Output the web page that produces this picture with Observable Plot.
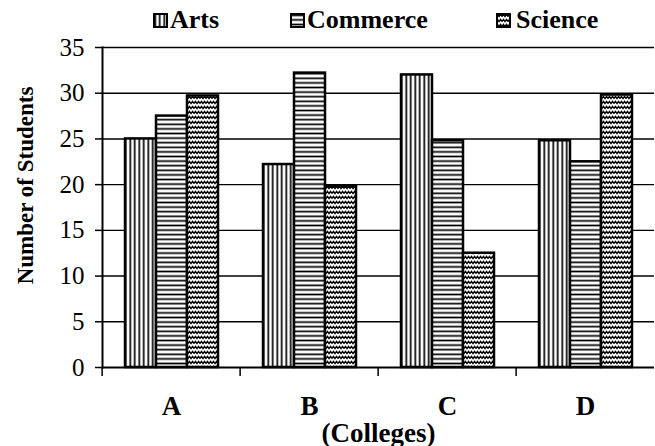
<!DOCTYPE html>
<html>
<head>
<meta charset="utf-8">
<script src="https://cdn.jsdelivr.net/npm/d3@7"></script>
<script src="https://cdn.jsdelivr.net/npm/@observablehq/plot@0.6"></script>
<style>
  html, body { margin: 0; padding: 0; background: #fff; }
  #wrap { position: relative; width: 655px; height: 446px; overflow: hidden; font-family: "Liberation Serif", "Times New Roman", serif; color: #000; }
  #legend { position: relative; height: 30px; }
  .sw { position: absolute; top: 13px; width: 15px; height: 15px; }
  .lt { position: absolute; top: 7px; font-size: 26px; line-height: 26px; white-space: nowrap; font-weight: bold; }
</style>
</head>
<body>
<svg width="0" height="0" style="position:absolute">
  <defs>
    <pattern id="p-arts" patternUnits="userSpaceOnUse" width="4.5" height="10">
      <rect width="4.5" height="10" fill="#fff"/>
      <line x1="2.25" y1="0" x2="2.25" y2="10" stroke="#000" stroke-width="1.7"/>
    </pattern>
    <pattern id="p-commerce" patternUnits="userSpaceOnUse" width="10" height="4.6">
      <rect width="10" height="4.6" fill="#fff"/>
      <line x1="0" y1="2.3" x2="10" y2="2.3" stroke="#000" stroke-width="1.7"/>
    </pattern>
    <pattern id="p-science" patternUnits="userSpaceOnUse" width="6" height="5">
      <rect width="6" height="5" fill="#fff"/>
      <path d="M0,3.6 L1.5,1.4 L3,3.6 L4.5,1.4 L6,3.6" fill="none" stroke="#000" stroke-width="1.4"/>
    </pattern>
  </defs>
</svg>
<div id="wrap">
  <div id="legend"></div>
  <div id="chart"></div>
</div>
<script>
// ---- data ----
const colleges = ["A", "B", "C", "D"];
const subjects = ["Arts", "Commerce", "Science"];
const arts     = [25, 22.2, 32, 24.8];
const commerce = [27.5, 32.2, 24.8, 22.5];
const science  = [29.7, 19.8, 12.5, 29.8];
const yTicks   = [0, 5, 10, 15, 20, 25, 30, 35];
const yLabel   = "Number of Students";
const xLabel   = "(Colleges)";

// ---- styles ----
const fills = ["url(#p-arts)", "url(#p-commerce)", "url(#p-science)"];
const legendPos = [{sw: 153, tx: 170}, {sw: 290, tx: 307}, {sw: 496, tx: 516}];

const rows = colleges.flatMap((c, i) => [
  {college: c, subject: subjects[0], value: arts[i]},
  {college: c, subject: subjects[1], value: commerce[i]},
  {college: c, subject: subjects[2], value: science[i]}
]);

// legend
const legend = document.getElementById("legend");
subjects.forEach((s, i) => {
  const sw = document.createElementNS("http://www.w3.org/2000/svg", "svg");
  sw.setAttribute("class", "sw");
  sw.setAttribute("width", 15); sw.setAttribute("height", 15);
  sw.style.left = legendPos[i].sw + "px";
  sw.innerHTML = `<rect x="1" y="1" width="13" height="13" fill="${fills[i]}" stroke="#000" stroke-width="2"/>`;
  legend.appendChild(sw);
  const t = document.createElement("span");
  t.className = "lt";
  t.style.left = legendPos[i].tx + "px";
  t.textContent = s;
  legend.appendChild(t);
});

const chart = Plot.plot({
  width: 655,
  height: 416,
  marginTop: 17,
  marginBottom: 79,
  marginLeft: 100,
  marginRight: 0,
  style: {fontFamily: "'Liberation Serif', 'Times New Roman', serif", fontSize: "25px", color: "#000", background: "#fff", overflow: "visible"},
  fx: {domain: colleges, padding: 0, label: null},
  x: {domain: subjects, paddingInner: 0, paddingOuter: 0.668, axis: null},
  y: {domain: [0, 35], axis: null},
  color: {domain: subjects, range: fills},
  marks: [
    Plot.ruleY(yTicks.slice(1), {stroke: "#000", strokeWidth: 1.4}),
    Plot.barY(rows, {fx: "college", x: "subject", y: "value", fill: "subject", stroke: "#000", strokeWidth: 2.5}),
    Plot.ruleY([0], {stroke: "#000", strokeWidth: 2}),
    Plot.frame({anchor: "left", facetAnchor: "left", stroke: "#000", strokeWidth: 2}),
    Plot.axisY({ticks: yTicks, tickSize: 7, tickPadding: 11, fontSize: 25, label: null, strokeWidth: 1.5}),
    Plot.text([yLabel], {frameAnchor: "left", facetAnchor: "left", textAnchor: "middle", lineAnchor: "middle", dx: -77, dy: -22, rotate: -90, fontSize: 23, fontWeight: "bold"}),
    Plot.axisFx({anchor: "bottom", tickSize: 0, tickPadding: 28, fontSize: 27, fontWeight: "bold", label: xLabel, labelAnchor: "center", labelOffset: 74}),
    Plot.axisFx({anchor: "bottom", tickSize: 9, tickFormat: () => "", dx: -69.375, label: null, strokeWidth: 1.5})
  ]
});
document.getElementById("chart").appendChild(chart);
</script>
</body>
</html>
